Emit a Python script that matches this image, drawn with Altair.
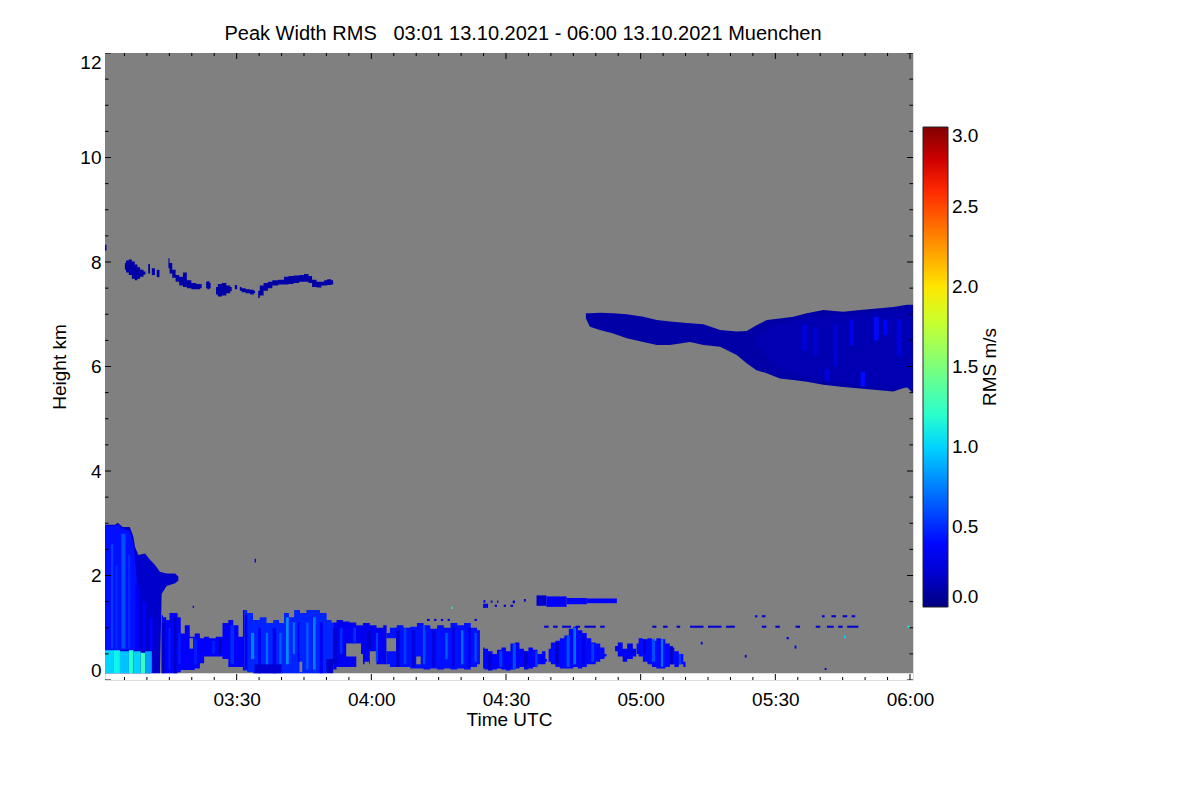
import json
import altair as alt
import pandas as pd

FONT = "Liberation Sans"
TITLE = "Peak Width RMS   03:01 13.10.2021 - 06:00 13.10.2021 Muenchen"
X_TITLE = "Time UTC"
Y_TITLE = "Height km"
CBAR_TITLE = "RMS m/s"

# time in minutes after 03:00 UTC, height in km
TIME_DOMAIN = [0.67, 180.67]
HEIGHT_DOMAIN = [0, 12]
TIME_TICKS = [30, 60, 90, 120, 150, 180]
TIME_LABELS = ["03:30", "04:00", "04:30", "05:00", "05:30", "06:00"]
TIME_MINOR = [t for t in range(5, 180, 5) if t % 30]
HEIGHT_TICKS = [0, 2, 4, 6, 8, 10, 12]
HEIGHT_MINOR = [h / 2 for h in range(1, 24) if h % 4]
CBAR_TICKS = [0.0, 0.5, 1.0, 1.5, 2.0, 2.5, 3.0]

# jet colour table
JET_DOMAIN = [0, 0.33, 0.375, 1.02, 1.05, 1.125, 1.92, 1.98, 2.67, 2.73, 3.0]
JET_COLORS = ["#000080", "#0000ff", "#0000ff", "#00dbff", "#00e5ff", "#15ffe2",
              "#eeff08", "#ffec00", "#ff1300", "#e80000", "#800000"]
NODATA_COLOR = "#808080"

# region without data (gray): (t0, t1, h0, h1)
NODATA = [(0.67, 180.67, 0.13, 12.0)]

# ---- echo outlines: (time, top, base); one RMS value per outline ----
BLOCK = [(0.67, 2.97, 0.13), (2.9, 2.97, 0.13), (3.5, 3.01, 0.13), (4.6, 2.93, 0.13), (6.2, 2.93, 0.13),
         (7.0, 2.74, 0.13), (7.35, 2.55, 0.13), (8.1, 2.39, 0.13), (9.6, 2.42, 0.13), (10.7, 2.30, 0.13),
         (11.8, 2.20, 0.13), (12.9, 2.07, 0.13), (13.3, 2.06, 1.65), (14.4, 2.04, 1.80),
         (16.3, 2.04, 1.85), (17.0, 1.98, 1.90)]
CLOUD = [(107.8, 7.02, 6.92), (108.7, 7.02, 6.76), (110.9, 7.03, 6.70), (113.9, 7.02, 6.63),
         (116.9, 7.00, 6.54), (120.6, 6.95, 6.47), (123.6, 6.89, 6.41), (126.5, 6.86, 6.41),
         (131.0, 6.83, 6.47), (134.0, 6.81, 6.41), (137.7, 6.70, 6.38), (141.4, 6.67, 6.22),
         (143.6, 6.68, 6.06), (145.8, 6.79, 5.93), (148.1, 6.89, 5.87), (151.0, 6.92, 5.77),
         (154.0, 6.95, 5.74), (157.0, 7.02, 5.71), (160.7, 7.08, 5.65), (165.1, 7.05, 5.61),
         (168.9, 7.08, 5.58), (172.6, 7.11, 5.55), (176.3, 7.14, 5.52), (179.3, 7.18, 5.61),
         (180.67, 7.18, 5.49)]
OUTER = [("block", BLOCK, 0.20), ("cloud", CLOUD, 0.10)]

BLOCK_IN = [(0.67, 2.95, 0.57), (2.9, 2.95, 0.57), (3.5, 2.98, 0.57), (4.6, 2.90, 0.57), (6.2, 2.85, 0.57),
            (7.0, 2.60, 0.57), (7.5, 2.20, 0.57), (8.0, 1.60, 0.57)]
CLOUD_IN = [(146.0, 6.60, 6.40), (150.0, 6.80, 6.00), (154.0, 6.88, 5.85), (158.0, 6.95, 5.78),
            (163.0, 6.98, 5.70), (168.0, 7.00, 5.65), (173.0, 7.05, 5.60), (180.5, 7.10, 5.60)]
INNER = [("block_in", BLOCK_IN, 0.42), ("cloud_in", CLOUD_IN, 0.13)]

LOW1 = [(13.3, 1.24, 0.13), (13.9, 1.20, 0.13), (14.7, 1.15, 0.13), (15.4, 1.28, 0.13), (16.5, 1.28, 0.13),
        (17.2, 1.20, 0.15), (17.9, 0.89, 0.19), (19.0, 1.05, 0.19), (20.1, 0.83, 0.19), (21.2, 0.89, 0.22),
        (22.4, 0.80, 0.32), (23.1, 0.83, 0.45), (24.6, 0.80, 0.45), (26.1, 0.83, 0.45), (27.6, 1.09, 0.40),
        (28.7, 1.15, 0.25), (29.8, 1.05, 0.25), (31.0, 0.83, 0.25), (31.8, 1.34, 0.18)]
LOW2 = [(31.8, 1.34, 0.18), (32.9, 1.28, 0.15), (34.4, 1.15, 0.13), (35.9, 1.20, 0.13), (37.4, 1.09, 0.13),
        (38.9, 1.15, 0.13), (40.0, 1.09, 0.13), (41.1, 1.28, 0.13), (42.2, 1.20, 0.13), (43.4, 1.34, 0.13),
        (44.8, 1.28, 0.13), (46.3, 1.34, 0.13), (47.8, 1.34, 0.13), (49.3, 1.28, 0.13), (50.8, 1.15, 0.15),
        (51.5, 1.10, 0.20)]
LOW3 = [(51.5, 1.10, 0.20), (53.0, 1.15, 0.25), (54.4, 1.12, 0.25), (55.9, 1.10, 0.25), (57.4, 1.05, 0.50),
        (58.9, 1.09, 0.30), (60.4, 1.05, 0.55), (61.9, 1.00, 0.30), (63.4, 1.05, 0.30)]
LOW4 = [(63.4, 0.90, 0.30), (64.9, 1.00, 0.25), (66.4, 1.05, 0.25), (67.9, 1.00, 0.25), (69.4, 1.02, 0.22),
        (70.9, 1.09, 0.22), (72.4, 1.05, 0.20), (73.9, 0.98, 0.22), (75.4, 1.05, 0.20), (76.9, 1.00, 0.22),
        (78.4, 1.09, 0.20), (79.9, 1.05, 0.22), (81.4, 1.09, 0.20), (82.9, 1.00, 0.25), (84.2, 0.95, 0.30)]
LOW5 = [(84.9, 0.62, 0.22), (85.5, 0.60, 0.20), (86.5, 0.55, 0.18), (87.5, 0.50, 0.20), (88.5, 0.58, 0.22),
        (89.5, 0.62, 0.20), (90.5, 0.55, 0.18), (91.5, 0.70, 0.20), (92.5, 0.72, 0.22), (93.5, 0.60, 0.25),
        (94.5, 0.55, 0.20), (95.5, 0.62, 0.22), (96.5, 0.58, 0.25), (97.5, 0.50, 0.30), (98.5, 0.55, 0.30),
        (99.1, 0.40, 0.35)]
LOW6 = [(99.5, 0.60, 0.35), (100.5, 0.72, 0.30), (101.5, 0.75, 0.25), (102.5, 0.80, 0.22), (103.5, 0.85, 0.22),
        (104.5, 0.98, 0.22), (105.5, 1.02, 0.25), (106.5, 0.95, 0.22), (107.5, 0.90, 0.25), (108.5, 0.80, 0.30),
        (109.5, 0.72, 0.30), (110.5, 0.70, 0.35), (111.5, 0.62, 0.40), (112.4, 0.50, 0.45)]
LOW7 = [(114.3, 0.65, 0.55), (115.5, 0.72, 0.45), (116.5, 0.60, 0.35), (117.5, 0.70, 0.40), (119.0, 0.60, 0.45)]
LOW8 = [(119.1, 0.70, 0.50), (120.0, 0.80, 0.45), (121.0, 0.78, 0.35), (122.0, 0.80, 0.30), (123.0, 0.75, 0.25),
        (124.0, 0.80, 0.22), (125.0, 0.78, 0.22), (126.0, 0.70, 0.25), (127.0, 0.62, 0.30), (128.0, 0.55, 0.25),
        (129.0, 0.50, 0.30), (130.0, 0.35, 0.25)]
BAND1 = [(5.1, 7.98, 7.85), (5.6, 8.03, 7.80), (6.3, 8.05, 7.75), (7.0, 8.01, 7.68), (7.6, 7.95, 7.65),
         (8.2, 7.90, 7.68), (8.8, 7.85, 7.72), (9.7, 7.82, 7.76)]
BAND2 = [(14.8, 8.07, 7.88), (15.3, 7.98, 7.78), (16.0, 7.85, 7.70), (16.8, 7.75, 7.62), (17.6, 7.72, 7.55),
         (18.5, 7.80, 7.52), (19.3, 7.65, 7.50), (20.5, 7.60, 7.48), (21.5, 7.58, 7.48), (22.2, 7.58, 7.50)]
BAND3 = [(23.2, 7.62, 7.50), (23.7, 7.63, 7.48), (24.2, 7.60, 7.50)]
BAND4 = [(25.4, 7.52, 7.38), (26.2, 7.58, 7.34), (27.2, 7.60, 7.36), (28.2, 7.55, 7.40), (28.9, 7.52, 7.44)]
BAND5 = [(30.7, 7.52, 7.45), (31.5, 7.50, 7.42), (32.5, 7.48, 7.40), (33.5, 7.47, 7.38), (34.1, 7.45, 7.40)]
BAND6 = [(34.8, 7.45, 7.31), (35.5, 7.55, 7.36), (36.5, 7.60, 7.45), (37.4, 7.62, 7.50), (38.5, 7.65, 7.55),
         (40.0, 7.66, 7.57), (41.1, 7.72, 7.57), (42.0, 7.73, 7.58), (43.4, 7.74, 7.60), (44.5, 7.75, 7.62),
         (45.5, 7.77, 7.62), (46.5, 7.73, 7.60), (47.1, 7.66, 7.52), (48.5, 7.62, 7.51), (49.3, 7.62, 7.55),
         (49.7, 7.65, 7.55), (50.6, 7.67, 7.56), (51.5, 7.65, 7.57)]
RAGGED = [("low1", LOW1, 0.32), ("low2", LOW2, 0.48), ("low3", LOW3, 0.30), ("low4", LOW4, 0.42),
          ("low5", LOW5, 0.38), ("low6", LOW6, 0.40), ("low7", LOW7, 0.30), ("low8", LOW8, 0.40),
          ("band1", BAND1, 0.10), ("band2", BAND2, 0.10), ("band3", BAND3, 0.10), ("band4", BAND4, 0.10),
          ("band5", BAND5, 0.10), ("band6", BAND6, 0.10)]

# gaps inside the echoes (no data): (t0, t1, h0, h1)
HOLES = [(19.5, 20.3, 0.60, 0.80), (44.0, 44.6, 0.15, 0.35), (54.4, 57.7, 0.45, 0.70),
         (58.5, 59.5, 0.20, 0.35), (63.4, 65.5, 0.55, 0.80), (70.0, 71.0, 0.30, 0.45)]

# ---- cells: (t start, t end, height bottom, height top, RMS) ----
BLOCK_CELLS = [
    (2.0, 2.5, 0.60, 2.60, 0.55), (4.3, 5.2, 0.60, 2.80, 0.60), (3.0, 3.5, 0.60, 2.20, 0.50),
    (5.8, 6.3, 0.60, 2.40, 0.50), (7.5, 8.2, 0.57, 1.80, 0.35), (9.0, 9.8, 0.57, 1.50, 0.35),
    (10.6, 11.3, 0.57, 1.20, 0.38),
    (0.67, 2.5, 0.13, 0.57, 1.00), (2.5, 4.0, 0.13, 0.57, 1.10), (4.0, 6.0, 0.13, 0.55, 0.95),
    (6.0, 7.0, 0.13, 0.57, 1.20), (7.0, 8.6, 0.13, 0.55, 1.00), (8.6, 9.6, 0.13, 0.52, 1.25),
    (9.6, 11.1, 0.13, 0.55, 0.85),
]

LOW_TEXTURE = [
    (13.3, 14.0, 0.13, 1.10, 0.20), (14.8, 15.3, 0.20, 1.00, 0.45), (16.0, 16.6, 0.13, 1.20, 0.18),
    (17.0, 17.5, 0.30, 0.90, 0.45), (20.5, 21.2, 0.30, 0.80, 0.45), (24.5, 25.2, 0.50, 0.75, 0.45),
    (28.6, 29.4, 0.30, 1.05, 0.50), (26.0, 26.6, 0.50, 0.78, 0.15),
    (31.8, 32.4, 0.20, 1.25, 0.30), (33.2, 33.9, 0.40, 0.90, 0.75), (34.8, 35.4, 0.13, 1.00, 0.30),
    (36.5, 37.0, 0.25, 0.90, 0.70), (38.0, 38.8, 0.13, 1.00, 0.30), (39.5, 40.0, 0.30, 0.90, 0.65),
    (41.0, 41.6, 0.30, 1.20, 0.80), (42.5, 43.0, 0.50, 1.10, 0.70), (43.6, 44.0, 0.35, 1.10, 0.30),
    (45.5, 46.0, 0.20, 1.10, 0.65), (47.0, 47.6, 0.20, 1.20, 0.75), (48.5, 49.2, 0.13, 1.10, 0.30),
    (50.0, 51.5, 0.13, 0.40, 0.20), (34.0, 40.0, 0.13, 0.30, 0.22),
    (51.5, 52.3, 0.30, 1.00, 0.20), (53.0, 53.6, 0.50, 1.00, 0.50), (56.0, 56.6, 0.70, 1.00, 0.50),
    (59.0, 60.0, 0.60, 0.95, 0.20), (61.0, 61.5, 0.35, 0.90, 0.55),
    (65.6, 66.3, 0.25, 0.95, 0.20), (67.2, 67.8, 0.30, 1.00, 0.55), (69.0, 69.8, 0.25, 0.95, 0.25),
    (71.5, 72.0, 0.30, 1.05, 0.60), (73.5, 74.3, 0.25, 0.95, 0.25), (76.5, 77.0, 0.40, 0.90, 0.65),
    (78.0, 78.6, 0.25, 1.00, 0.25), (80.0, 80.5, 0.30, 0.95, 0.70), (81.5, 82.2, 0.25, 1.00, 0.30),
    (83.0, 83.5, 0.35, 0.90, 0.60),
    (86.0, 86.8, 0.20, 0.50, 0.20), (88.5, 89.2, 0.25, 0.55, 0.55), (91.5, 92.2, 0.20, 0.70, 0.60),
    (94.0, 94.8, 0.25, 0.55, 0.20), (96.5, 97.0, 0.25, 0.55, 0.55),
    (101.0, 101.8, 0.30, 0.72, 0.20), (103.5, 104.2, 0.25, 0.85, 0.60), (105.0, 105.6, 0.30, 1.00, 0.70),
    (107.0, 107.7, 0.30, 0.88, 0.25), (109.0, 109.6, 0.35, 0.70, 0.55),
    (120.5, 121.2, 0.50, 0.78, 0.20), (122.5, 123.2, 0.35, 0.78, 0.60), (124.5, 125.0, 0.25, 0.78, 0.70),
    (126.5, 127.2, 0.30, 0.65, 0.20), (128.5, 129.0, 0.30, 0.50, 0.55),
]

STREAK_15KM = [
    (96.8, 99.0, 1.42, 1.62, 0.20), (99.0, 103.5, 1.40, 1.60, 0.32), (103.5, 108.0, 1.45, 1.57, 0.38),
    (108.0, 114.7, 1.47, 1.56, 0.32),
    (85.0, 85.4, 1.48, 1.53, 0.30), (86.6, 87.0, 1.48, 1.52, 0.20), (88.0, 88.3, 1.48, 1.52, 0.20),
    (91.5, 92.0, 1.47, 1.52, 0.20), (94.0, 94.4, 1.50, 1.55, 0.20),
]

BAND_CELLS = [
    (0.67, 1.0, 8.22, 8.33, 0.12), (10.3, 10.7, 7.78, 7.96, 0.10), (11.1, 11.8, 7.75, 7.88, 0.10),
    (12.2, 12.8, 7.71, 7.85, 0.10), (29.6, 30.1, 7.48, 7.56, 0.10),
]

CLOUD_CELLS = [
    (156.0, 157.0, 6.30, 6.80, 0.24), (158.5, 159.3, 6.20, 6.75, 0.22), (163.0, 163.8, 6.00, 6.80, 0.22),
    (166.5, 167.5, 6.40, 6.90, 0.28), (169.0, 170.0, 5.62, 5.90, 0.40), (172.0, 173.0, 6.50, 6.95, 0.40),
    (174.0, 175.0, 6.60, 6.90, 0.35), (177.0, 178.0, 6.20, 6.90, 0.24), (161.0, 162.0, 5.72, 5.95, 0.24),
]

SPECKLES = [
    (98.5, 99.5, 1.00, 1.04, 0.2), (100.5, 101.5, 1.00, 1.04, 0.2), (102.5, 104.5, 1.00, 1.04, 0.2),
    (105.5, 106.5, 1.00, 1.04, 0.2), (107.5, 110.0, 1.00, 1.04, 0.2), (111.0, 112.0, 1.00, 1.04, 0.2),
    (122.6, 123.5, 1.00, 1.04, 0.2), (125.0, 126.0, 1.00, 1.04, 0.2), (128.0, 128.8, 1.00, 1.04, 0.2),
    (131.0, 134.0, 1.00, 1.04, 0.2), (135.0, 138.0, 1.00, 1.04, 0.2), (139.0, 141.0, 1.00, 1.04, 0.2),
    (147.0, 148.0, 1.00, 1.04, 0.2), (150.0, 151.0, 1.00, 1.04, 0.2), (154.5, 155.5, 1.00, 1.04, 0.2),
    (159.0, 160.0, 1.00, 1.04, 0.2), (161.5, 163.0, 1.00, 1.04, 0.2), (164.0, 165.0, 1.00, 1.04, 0.2),
    (166.0, 168.5, 1.00, 1.04, 0.2),
    (145.5, 146.0, 1.20, 1.24, 0.2), (147.0, 147.8, 1.20, 1.24, 0.2), (160.4, 161.0, 1.20, 1.24, 0.2),
    (162.5, 163.5, 1.20, 1.24, 0.2), (165.0, 166.0, 1.20, 1.24, 0.2), (167.0, 167.8, 1.20, 1.24, 0.2),
    (72.4, 73.0, 1.13, 1.17, 0.2), (74.0, 74.5, 1.13, 1.17, 0.2), (75.5, 76.0, 1.13, 1.17, 0.2),
    (77.0, 77.5, 1.13, 1.17, 0.2), (83.0, 83.5, 1.13, 1.17, 0.2),
    (84.9, 86.0, 1.38, 1.46, 0.3), (87.5, 88.0, 1.40, 1.44, 0.2), (89.5, 90.0, 1.40, 1.44, 0.2),
    (91.0, 91.6, 1.40, 1.44, 0.2),
    (34.0, 34.3, 2.25, 2.32, 0.3), (20.2, 20.5, 1.38, 1.42, 0.3), (77.8, 78.1, 1.36, 1.40, 1.1),
    (133.4, 133.8, 0.68, 0.73, 0.3), (143.2, 143.6, 0.43, 0.48, 0.2), (152.5, 153.0, 0.78, 0.82, 0.2),
    (154.3, 154.7, 0.60, 0.66, 0.3), (161.0, 161.4, 0.19, 0.23, 0.2), (165.3, 165.7, 0.80, 0.85, 1.0),
    (179.5, 179.9, 1.00, 1.04, 1.1),
]

W, H = 808, 627


def cells(rows):
    return pd.DataFrame(rows, columns=["t0", "t1", "h0", "h1", "v"])


def outlines(group):
    return pd.concat([
        pd.DataFrame({"t0": [p[0] for p in pts], "h1": [p[1] for p in pts], "h0": [p[2] for p in pts],
                      "v": val, "shape": name})
        for name, pts, val in group
    ], ignore_index=True)


x_scale = alt.Scale(domain=TIME_DOMAIN, nice=False, zero=False)
y_scale = alt.Scale(domain=HEIGHT_DOMAIN, nice=False, zero=False)
label_expr = f"{json.dumps(TIME_LABELS)}[indexof({json.dumps(TIME_TICKS)}, datum.value)]"
x_axis = alt.Axis(values=TIME_TICKS, labelExpr=label_expr, ticks=False, domain=False, grid=False,
                  labelFontSize=19, labelPadding=10, titlePadding=1, titleFontSize=19,
                  titleFontWeight="normal", labelColor="black", titleColor="black",
                  labelFont=FONT, titleFont=FONT)
y_axis = alt.Axis(values=HEIGHT_TICKS, labelFlush=True, ticks=False, domain=False, grid=False,
                  labelFontSize=19, labelPadding=4, titlePadding=10, titleFontSize=19,
                  titleFontWeight="normal", labelColor="black", titleColor="black",
                  labelFont=FONT, titleFont=FONT)


def X(f):
    return alt.X(f"{f}:Q", scale=x_scale, axis=x_axis, title=X_TITLE)


def Y(f, **kw):
    return alt.Y(f"{f}:Q", scale=y_scale, axis=y_axis, title=Y_TITLE, **kw)


color = alt.Color(
    "v:Q",
    scale=alt.Scale(domain=JET_DOMAIN, range=JET_COLORS, interpolate="rgb", clamp=True),
    legend=alt.Legend(
        orient="none", legendX=818, legendY=74, direction="vertical",
        gradientLength=480, gradientThickness=25, gradientStrokeColor="#222",
        gradientStrokeWidth=1, values=CBAR_TICKS, format=".1f",
        labelFontSize=19, labelFont=FONT, labelColor="black", labelOffset=4,
        title="",
    ),
)

bg = alt.Chart(pd.DataFrame(NODATA, columns=["t0", "t1", "h0", "h1"])).mark_rect(
    color=NODATA_COLOR).encode(x=X("t0"), x2="t1", y=Y("h0"), y2="h1")


def area_layer(group, interp):
    return alt.Chart(outlines(group)).mark_area(interpolate=interp, clip=True).encode(
        x=X("t0"), y=Y("h1", stack=False), y2="h0", color=color, detail="shape:N")


outer = area_layer(OUTER, "linear")
inner = area_layer(INNER, "linear")
ragged = area_layer(RAGGED, "step")

holes = alt.Chart(pd.DataFrame(HOLES, columns=["t0", "t1", "h0", "h1"])).mark_rect(
    color=NODATA_COLOR, clip=True).encode(x=X("t0"), x2="t1", y=Y("h0"), y2="h1")

rect_df = cells(BLOCK_CELLS + LOW_TEXTURE + STREAK_15KM + BAND_CELLS + CLOUD_CELLS + SPECKLES)
rects = alt.Chart(rect_df).mark_rect(clip=True).encode(
    x=X("t0"), x2="t1", y=Y("h0"), y2="h1", color=color)

xt = pd.DataFrame({"t": TIME_TICKS + TIME_MINOR,
                   "len": [12] * len(TIME_TICKS) + [6] * len(TIME_MINOR)})
yt = pd.DataFrame({"h": HEIGHT_TICKS + HEIGHT_MINOR,
                   "len": [12] * len(HEIGHT_TICKS) + [7] * len(HEIGHT_MINOR)})
tick_kw = dict(clip=True, color="black", opacity=1, thickness=1)
xb = alt.Chart(xt).mark_tick(**tick_kw).encode(x=X("t"), y=alt.value(H), size=alt.Size("len:Q", scale=None))
xtop = alt.Chart(xt).mark_tick(**tick_kw).encode(x=X("t"), y=alt.value(0), size=alt.Size("len:Q", scale=None))
yl = alt.Chart(yt).mark_tick(**tick_kw).encode(y=Y("h"), x=alt.value(0), size=alt.Size("len:Q", scale=None))
yr = alt.Chart(yt).mark_tick(**tick_kw).encode(y=Y("h"), x=alt.value(W), size=alt.Size("len:Q", scale=None))

cbar_title = alt.Chart(pd.DataFrame({"label": [CBAR_TITLE]})).mark_text(
    angle=270, align="center", baseline="middle", font=FONT, fontSize=19, color="black"
).encode(text="label:N", x=alt.value(885), y=alt.value(314))

shown_title = TITLE.replace("   ", " \u00a0\u00a0")

chart = alt.layer(bg, outer, inner, ragged, holes, rects, xb, xtop, yl, yr, cbar_title).properties(
    width=W, height=H,
    title=alt.TitleParams(shown_title, fontSize=20, font=FONT, fontWeight="normal", color="black",
                          anchor="middle", dx=14, offset=9),
    autosize=alt.AutoSizeParams(type="none"),
    padding={"left": 97, "top": 45, "right": 250, "bottom": 100},
).configure_view(stroke="black", strokeWidth=1.2).configure(background="white")

chart.save("out.html", embed_options={"renderer": "svg", "actions": False})
